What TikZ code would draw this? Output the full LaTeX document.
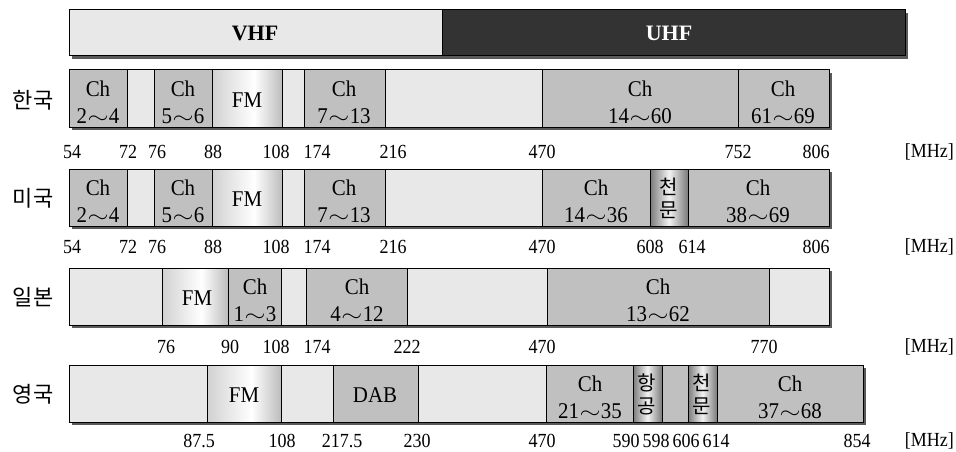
\documentclass[tikz,border=0pt]{standalone}
\usepackage{fontspec}
\setmainfont{Liberation Serif}
\newfontfamily\krfont{Noto Sans CJK KR}
\newfontfamily\numfont[FakeStretch=0.9]{Liberation Serif}
\newfontfamily\chfont[FakeStretch=0.93]{Liberation Serif}

\definecolor{bandgray}{HTML}{C0C0C0}
\definecolor{bandlight}{HTML}{E8E8E8}
\definecolor{uhfdark}{HTML}{333333}
\definecolor{shadowgray}{HTML}{5A5A5A}

% FM bands: light at the left, white just past the middle, grey at the right
\pgfdeclarehorizontalshading{fmshade}{100bp}{color(0bp)=(black!18); color(25bp)=(black!18); color(55bp)=(white); color(75bp)=(black!26); color(100bp)=(black!26)}
% narrow reserved bands drawn like a small cylinder
\pgfdeclarehorizontalshading{tubeshade}{100bp}{color(0bp)=(black!52); color(25bp)=(black!52); color(50bp)=(black!5); color(75bp)=(black!52); color(100bp)=(black!52)}

% thin, wide tilde between channel numbers
\newcommand\wave{\mbox{\kern0.5pt\scalebox{1.3}[1]{$\sim$}\kern0.5pt}}

\tikzset{
  x=1pt, y=-1pt,
  edge/.style={draw=black, line width=1pt},
  graybox/.style={edge, fill=bandgray},
  lightbox/.style={edge, fill=bandlight},
  fmbox/.style={edge, shading=fmshade},
  tubebox/.style={edge, shading=tubeshade},
  shadowbox/.style={fill=shadowgray},
  chtext/.style={font=\chfont\fontsize{22.5}{27}\selectfont, align=center, inner sep=0pt},
  fmtext/.style={font=\chfont\fontsize{22.5}{27}\selectfont, inner sep=0pt},
  tubetext/.style={font=\krfont\fontsize{20}{23}\selectfont, align=center, inner sep=0pt},
  freq/.style={font=\numfont\fontsize{20}{20}\selectfont, inner sep=0pt},
  unit/.style={freq, anchor=east},
  country/.style={font=\krfont\fontsize{22}{22}\selectfont, inner sep=0pt},
  bandname/.style={font=\bfseries\fontsize{22}{22}\selectfont, inner sep=0pt},
}

\begin{document}
\begin{tikzpicture}
\useasboundingbox (0,0) rectangle (956,452);

% ---------- VHF / UHF header ----------
\fill[shadowgray] (72,13) rectangle (908,59);
\draw[edge, fill=bandlight] (69,10) rectangle (442,56);
\draw[edge, fill=uhfdark] (442,10) rectangle (905,56);
\node[bandname] (vhf) at (255,33) {VHF};
\node[bandname, text=white] (uhf) at (669,33) {UHF};

% ---------- Korea ----------
\fill[shadowbox] (72,73) rectangle (832,130);
\draw[graybox]  (69,70)  rectangle (127,127);
\draw[lightbox] (127,70) rectangle (154,127);
\draw[graybox]  (154,70) rectangle (212,127);
\shade[fmbox]   (212,70) rectangle (282,127);
\draw[lightbox] (282,70) rectangle (304,127);
\draw[graybox]  (304,70) rectangle (385,127);
\draw[lightbox] (385,70) rectangle (542,127);
\draw[graybox]  (542,70) rectangle (738,127);
\draw[graybox]  (738,70) rectangle (829,127);
\node[country] (kr) at (33,100) {한국};
\node[chtext] (kr1) at (98,102)  {Ch\\2\wave4};
\node[chtext] (kr2) at (183,102) {Ch\\5\wave6};
\node[fmtext] (kr3) at (247,100) {FM};
\node[chtext] (kr4) at (344,102) {Ch\\7\wave13};
\node[chtext] (kr5) at (640,102) {Ch\\14\wave60};
\node[chtext] (kr6) at (783,102) {Ch\\61\wave69};
\foreach \f/\x in {54/72,72/128,76/157,88/213,108/276,174/317,216/393,470/542,752/738,806/816}
  \node[freq] (krf\f) at (\x,152) {\f};
\node[unit] (krunit) at (954,152) {[MHz]};

% ---------- USA ----------
\fill[shadowbox] (72,172) rectangle (832,229);
\draw[graybox]  (69,169)  rectangle (127,226);
\draw[lightbox] (127,169) rectangle (154,226);
\draw[graybox]  (154,169) rectangle (212,226);
\shade[fmbox]   (212,169) rectangle (282,226);
\draw[lightbox] (282,169) rectangle (304,226);
\draw[graybox]  (304,169) rectangle (385,226);
\draw[lightbox] (385,169) rectangle (542,226);
\draw[graybox]  (542,169) rectangle (650,226);
\shade[tubebox] (650,169) rectangle (688,226);
\draw[graybox]  (688,169) rectangle (829,226);
\node[country] (us) at (33,198) {미국};
\node[chtext] (us1) at (98,201)  {Ch\\2\wave4};
\node[chtext] (us2) at (183,201) {Ch\\5\wave6};
\node[fmtext] (us3) at (247,199) {FM};
\node[chtext] (us4) at (344,201) {Ch\\7\wave13};
\node[chtext] (us5) at (596,201) {Ch\\14\wave36};
\node[tubetext] (us6) at (669,198) {천\\문};
\node[chtext] (us7) at (758,201) {Ch\\38\wave69};
\foreach \f/\x in {54/72,72/128,76/157,88/213,108/276,174/317,216/393,470/542,608/650,614/692,806/816}
  \node[freq] (usf\f) at (\x,247) {\f};
\node[unit] (usunit) at (954,247) {[MHz]};

% ---------- Japan ----------
\fill[shadowbox] (72,271) rectangle (832,328);
\draw[lightbox] (69,268)  rectangle (162,325);
\shade[fmbox]   (162,268) rectangle (228,325);
\draw[graybox]  (228,268) rectangle (281,325);
\draw[lightbox] (281,268) rectangle (306,325);
\draw[graybox]  (306,268) rectangle (407,325);
\draw[lightbox] (407,268) rectangle (547,325);
\draw[graybox]  (547,268) rectangle (769,325);
\draw[lightbox] (769,268) rectangle (829,325);
\node[country] (jp) at (33,297) {일본};
\node[fmtext] (jp1) at (197,298) {FM};
\node[chtext] (jp2) at (255,300) {Ch\\1\wave3};
\node[chtext] (jp3) at (357,300) {Ch\\4\wave12};
\node[chtext] (jp4) at (658,300) {Ch\\13\wave62};
\foreach \f/\x in {76/166,90/230,108/276,174/317,222/407,470/542,770/764}
  \node[freq] (jpf\f) at (\x,347) {\f};
\node[unit] (jpunit) at (954,347) {[MHz]};

% ---------- United Kingdom ----------
\fill[shadowbox] (72,368) rectangle (866,425);
\draw[lightbox] (69,365)  rectangle (207,422);
\shade[fmbox]   (207,365) rectangle (281,422);
\draw[lightbox] (281,365) rectangle (333,422);
\draw[graybox]  (333,365) rectangle (418,422);
\draw[lightbox] (418,365) rectangle (546,422);
\draw[graybox]  (546,365) rectangle (633,422);
\shade[tubebox] (633,365) rectangle (662,422);
\draw[graybox]  (662,365) rectangle (688,422);
\shade[tubebox] (688,365) rectangle (717,422);
\draw[graybox]  (717,365) rectangle (863,422);
\node[country] (uk) at (33,394) {영국};
\node[fmtext] (uk1) at (244,395) {FM};
\node[fmtext] (uk2) at (375,395) {DAB};
\node[chtext] (uk3) at (590,397) {Ch\\21\wave35};
\node[tubetext] (uk4) at (647,394) {항\\공};
\node[tubetext] (uk5) at (702,394) {천\\문};
\node[chtext] (uk6) at (790,397) {Ch\\37\wave68};
\foreach \f/\x in {87.5/199,108/282,217.5/342,230/417,470/542,590/626,598/656,606/686,614/716,854/857}
  \node[freq] (ukf\f) at (\x,441) {\f};
\node[unit] (ukunit) at (954,441) {[MHz]};
\end{tikzpicture}
\end{document}
